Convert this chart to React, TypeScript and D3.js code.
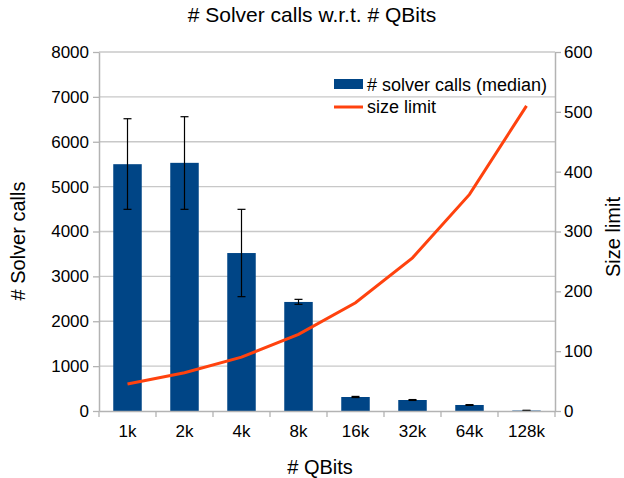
import { useEffect, useRef } from 'react';
import * as d3 from 'd3';

// Chart data
const categories: string[] = ['1k', '2k', '4k', '8k', '16k', '32k', '64k', '128k'];
const solverCalls: number[] = [5500, 5530, 3520, 2430, 312, 245, 134, 10];
const errLow: number[] = [4494, 4494, 2548, 2377, 300, 235, 125, 4];
const errHigh: number[] = [6513, 6558, 4494, 2488, 325, 255, 142, 16];
const sizeLimit: number[] = [45, 64, 90, 128, 181, 256, 362, 510];
const leftTicks: number[] = [0, 1000, 2000, 3000, 4000, 5000, 6000, 7000, 8000];
const rightTicks: number[] = [0, 100, 200, 300, 400, 500, 600];

const BAR_COLOR = '#004586';
const LINE_COLOR = '#ff420e';
const GRID_COLOR = '#c8c8c8';
const AXIS_COLOR = '#b3b3b3';
const FONT = '"Liberation Sans", Arial, sans-serif';

export default function App() {
    const svgRef = useRef<SVGSVGElement | null>(null);

    useEffect(() => {
        if (!svgRef.current) return;
        const svg = d3.select(svgRef.current);
        svg.selectAll('*').remove();

        const width = 624;
        const height = 478;
        const margin = { top: 52, right: 69, bottom: 67, left: 99 };
        const innerWidth = width - margin.left - margin.right;
        const innerHeight = height - margin.top - margin.bottom;

        svg.append('rect').attr('width', width).attr('height', height).attr('fill', '#fff');

        const g = svg.append('g').attr('transform', `translate(${margin.left},${margin.top})`);

        // Scales
        const x = d3.scaleBand<string>().domain(categories).range([0, innerWidth]).paddingInner(0.5).paddingOuter(0.25);
        const xBoundary = d3.scaleBand<string>().domain(categories).range([0, innerWidth]);
        const y = d3.scaleLinear().domain([0, 8000]).range([innerHeight, 0]);
        const y2 = d3.scaleLinear().domain([0, 600]).range([innerHeight, 0]);

        // Gridlines
        g.append('g')
            .selectAll('line')
            .data(leftTicks.slice(1))
            .join('line')
            .attr('x1', 0)
            .attr('x2', innerWidth)
            .attr('y1', d => y(d))
            .attr('y2', d => y(d))
            .attr('stroke', GRID_COLOR)
            .attr('stroke-width', 1.3);

        // Bars
        g.append('g')
            .selectAll('rect')
            .data(solverCalls)
            .join('rect')
            .attr('x', (_, i) => x(categories[i]) as number)
            .attr('width', x.bandwidth())
            .attr('y', d => y(d))
            .attr('height', d => innerHeight - y(d))
            .attr('fill', BAR_COLOR);

        // Error bars
        const eb = g.append('g').attr('stroke', '#000').attr('stroke-width', 1.2);
        categories.forEach((c, i) => {
            const cx = (x(c) as number) + x.bandwidth() / 2;
            eb.append('line').attr('x1', cx).attr('x2', cx).attr('y1', y(errLow[i])).attr('y2', y(errHigh[i]));
            [errLow[i], errHigh[i]].forEach(v => {
                eb.append('line').attr('x1', cx - 4).attr('x2', cx + 4).attr('y1', y(v)).attr('y2', y(v));
            });
        });

        // Axes
        const axisText = (sel: d3.Selection<SVGGElement, unknown, null, undefined>) => {
            sel.select('.domain').attr('stroke', AXIS_COLOR).attr('stroke-width', 1.5);
            sel.selectAll('.tick line').attr('stroke', AXIS_COLOR).attr('stroke-width', 1.3);
            sel.selectAll('.tick text').attr('font-family', FONT).attr('font-size', 17).attr('fill', '#000');
        };

        const yAxis = g.append('g').call(
            d3.axisLeft(y).tickValues(leftTicks).tickFormat(d3.format('d')).tickSize(6).tickSizeOuter(0).tickPadding(4)
        );
        axisText(yAxis);

        const y2Axis = g.append('g')
            .attr('transform', `translate(${innerWidth},0)`)
            .call(d3.axisRight(y2).tickValues(rightTicks).tickFormat(d3.format('d')).tickSize(6).tickSizeOuter(0).tickPadding(3));
        axisText(y2Axis);

        const xAxis = g.append('g')
            .attr('transform', `translate(0,${innerHeight})`)
            .call(d3.axisBottom(xBoundary).tickSize(0).tickSizeOuter(0).tickPadding(14));
        axisText(xAxis);

        // bottom ticks at category boundaries
        g.append('g')
            .selectAll('line')
            .data(d3.range(categories.length + 1))
            .join('line')
            .attr('x1', i => i * xBoundary.step())
            .attr('x2', i => i * xBoundary.step())
            .attr('y1', innerHeight)
            .attr('y2', innerHeight + 6)
            .attr('stroke', AXIS_COLOR)
            .attr('stroke-width', 1.3);

        // Size limit line
        const line = d3.line<number>()
            .x((_, i) => (x(categories[i]) as number) + x.bandwidth() / 2)
            .y(d => y2(d));

        g.append('path')
            .datum(sizeLimit)
            .attr('fill', 'none')
            .attr('stroke', LINE_COLOR)
            .attr('stroke-width', 3)
            .attr('d', line);

        // Legend
        const legend = svg.append('g').attr('font-family', FONT).attr('font-size', 18);
        legend.append('rect').attr('x', 334).attr('y', 79).attr('width', 29).attr('height', 10).attr('fill', BAR_COLOR);
        legend.append('text').attr('x', 367).attr('y', 91).text('# solver calls (median)');
        legend.append('line').attr('x1', 334).attr('x2', 363).attr('y1', 107).attr('y2', 107).attr('stroke', LINE_COLOR).attr('stroke-width', 3);
        legend.append('text').attr('x', 367).attr('y', 113).text('size limit');

        // Titles
        svg.append('text')
            .attr('x', 312).attr('y', 22)
            .attr('text-anchor', 'middle')
            .attr('font-family', FONT).attr('font-size', 21)
            .text('# Solver calls w.r.t. # QBits');

        svg.append('text')
            .attr('transform', `translate(25,241) rotate(-90)`)
            .attr('text-anchor', 'middle')
            .attr('font-family', FONT).attr('font-size', 20)
            .text('# Solver calls');

        svg.append('text')
            .attr('transform', `translate(620,237) rotate(-90)`)
            .attr('text-anchor', 'middle')
            .attr('font-family', FONT).attr('font-size', 20)
            .text('Size limit');

        svg.append('text')
            .attr('x', 320).attr('y', 474)
            .attr('text-anchor', 'middle')
            .attr('font-family', FONT).attr('font-size', 20)
            .text('# QBits');

        return () => {
            svg.selectAll('*').remove();
        };
    }, []);

    return (
        <div style={{ position: 'absolute', left: 0, top: 0 }}>
            <svg width="624" height="478" ref={svgRef} style={{ display: 'block' }}></svg>
        </div>
    );
}
